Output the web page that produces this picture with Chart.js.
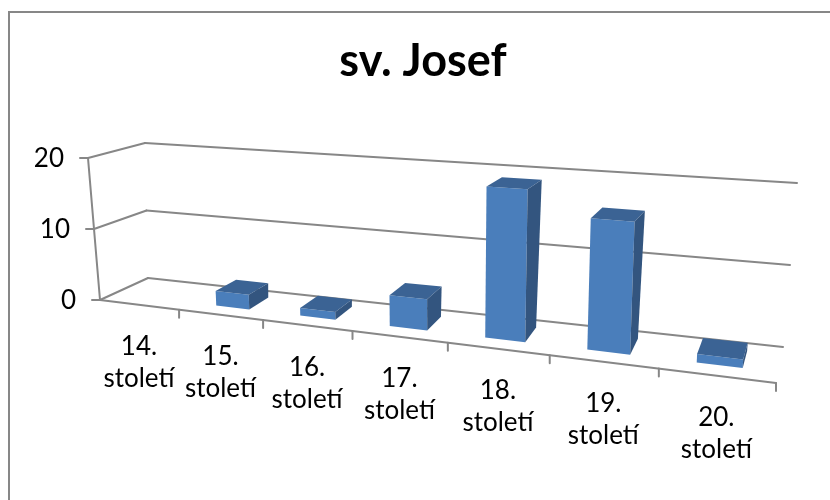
<!DOCTYPE html>
<html>
<head>
<meta charset="utf-8">
<script src="https://cdn.jsdelivr.net/npm/chart.js@4.4.1/dist/chart.umd.min.js"></script>
<style>
  html, body { margin: 0; padding: 0; background: #fff; }
</style>
</head>
<body>
<canvas id="chart" width="830" height="500"></canvas>
<script>
// data
const categories = [
  ['14.', 'století'], ['15.', 'století'], ['16.', 'století'], ['17.', 'století'],
  ['18.', 'století'], ['19.', 'století'], ['20.', 'století']
];
const values = [0, 2, 1, 4, 19, 16, 1];
const yTicks = [0, 10, 20];

// 3D box the chart is drawn into: front (d=0) and back (d=1) walls
const box = {
  front: { floorL: [100, 300], floorR: [776, 383], topL: [88, 158], topR: [784, 205] },
  back:  { floorL: [148, 278], floorR: [783, 347], topL: [145, 143], topR: [797, 183] }
};
const foreshorten = 0.795;   // categories get wider towards the right
const barDepth = [0.3, 0.78]; // bars sit in the middle of the floor
const gridColor = '#878787';
const faceColors = { front: '#4a7ebb', top: '#3b6394', side: '#33557f' };
const labelFont = '26px Lato';

const lerp = (a, b, t) => [a[0] + (b[0] - a[0]) * t, a[1] + (b[1] - a[1]) * t];

function project(u, v, d) {
  const w = foreshorten * u / (1 + (foreshorten - 1) * u);
  const onWall = (p) => lerp(lerp(p.floorL, p.floorR, w), lerp(p.topL, p.topR, w), v);
  return lerp(onWall(box.front), onWall(box.back), d);
}

function poly(ctx, pts, fill) {
  ctx.beginPath();
  pts.forEach((p, i) => i ? ctx.lineTo(p[0], p[1]) : ctx.moveTo(p[0], p[1]));
  ctx.closePath();
  ctx.fillStyle = fill;
  ctx.fill();
}

function line(ctx, a, b) {
  ctx.beginPath();
  ctx.moveTo(a[0], a[1]);
  ctx.lineTo(b[0], b[1]);
  ctx.stroke();
}

const perspective3d = {
  id: 'perspective3d',
  beforeDraw(chart) {
    const ctx = chart.ctx;
    ctx.save();
    ctx.strokeStyle = gridColor;
    ctx.lineWidth = 2;
    ctx.strokeRect(9, 12, 860, 540);
    ctx.restore();
  },
  beforeDatasetsDraw(chart) {
    const ctx = chart.ctx;
    const area = chart.chartArea;
    const xs = chart.scales.x, ys = chart.scales.y;
    const toU = (px) => (px - area.left) / area.width;
    const toV = (py) => (ys.bottom - py) / (ys.bottom - ys.top);

    ctx.save();
    ctx.strokeStyle = gridColor;
    ctx.lineWidth = 2;
    ctx.lineCap = 'round';

    // side and back wall gridlines
    yTicks.forEach(t => {
      const v = toV(ys.getPixelForValue(t));
      line(ctx, project(0, v, 0), project(0, v, 1));
      line(ctx, project(0, v, 1), project(1, v, 1));
    });

    // value axis with ticks and labels
    line(ctx, project(0, 0, 0), project(0, 1, 0));
    ctx.fillStyle = '#000';
    ctx.font = labelFont;
    ctx.textAlign = 'right';
    ctx.textBaseline = 'middle';
    yTicks.forEach(t => {
      const p = project(0, toV(ys.getPixelForValue(t)), 0);
      line(ctx, [p[0] - 8, p[1]], p);
      ctx.fillText(String(t), p[0] - 24, p[1] + 1);
    });

    // bars
    const meta = chart.getDatasetMeta(0);
    const [d0, d1] = barDepth;
    meta.data.forEach((bar, i) => {
      if (!values[i]) return;
      const { x, y, base, width } = bar.getProps(['x', 'y', 'base', 'width'], true);
      const uL = toU(x - width / 2), uR = toU(x + width / 2);
      const v0 = toV(base), v1 = toV(y);
      poly(ctx, [project(uL, v0, d0), project(uR, v0, d0), project(uR, v1, d0), project(uL, v1, d0)], faceColors.front);
      poly(ctx, [project(uL, v1, d0), project(uR, v1, d0), project(uR, v1, d1), project(uL, v1, d1)], faceColors.top);
      poly(ctx, [project(uR, v0, d0), project(uR, v0, d1), project(uR, v1, d1), project(uR, v1, d0)], faceColors.side);
    });

    // category axis along the front edge of the floor
    line(ctx, project(0, 0, 0), project(1, 0, 0));
    const n = categories.length;
    for (let i = 1; i <= n; i++) {
      const p = project(i / n, 0, 0);
      line(ctx, p, [p[0], p[1] + 8]);
    }
    ctx.fillStyle = '#000';
    ctx.textAlign = 'center';
    categories.forEach((lbl, i) => {
      const p = project(toU(xs.getPixelForValue(i)), 0, 0);
      lbl.forEach((txt, j) => ctx.fillText(txt, p[0], p[1] + 42 + j * 32));
    });

    ctx.restore();
    return false;
  }
};

new Chart(document.getElementById('chart'), {
  type: 'bar',
  data: {
    labels: categories,
    datasets: [{ label: 'sv. Josef', data: values, backgroundColor: faceColors.front, barPercentage: 0.4, categoryPercentage: 1 }]
  },
  options: {
    responsive: false,
    animation: false,
    layout: { padding: { left: 30, right: 14, top: 0, bottom: 200 } },
    scales: {
      x: { display: false },
      y: { display: false, min: 0, max: 20 }
    },
    plugins: {
      legend: { display: false },
      tooltip: { enabled: false },
      title: {
        display: true,
        text: 'sv. Josef',
        color: '#000',
        font: { family: 'Lato', size: 45, weight: 'bold', lineHeight: 1.2 },
        padding: { top: 34, bottom: 70 }
      }
    }
  },
  plugins: [perspective3d]
});
</script>
</body>
</html>
